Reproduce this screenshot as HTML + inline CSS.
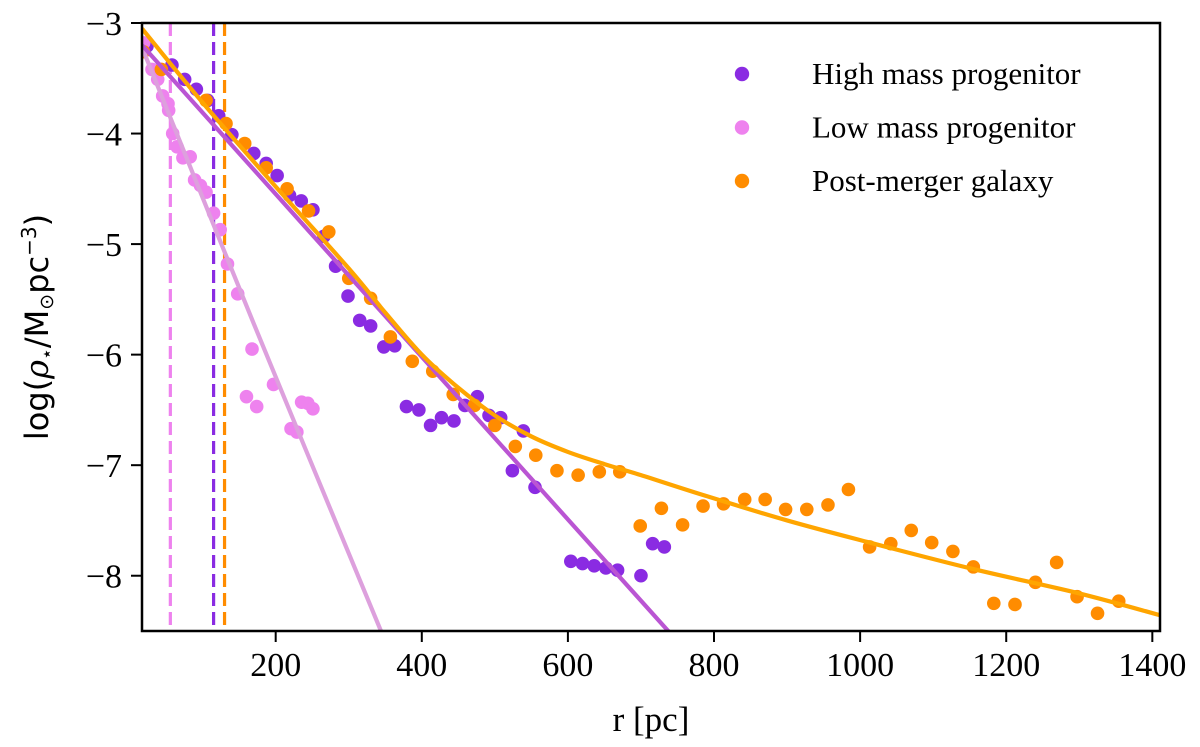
<!DOCTYPE html>
<html><head><meta charset="utf-8"><style>
html,body{margin:0;padding:0;background:#fff}
svg{display:block}
.tk{font-family:"Liberation Serif",serif;font-size:34px;fill:#000}
.lg{font-family:"Liberation Serif",serif;font-size:31px;fill:#000}
</style></head><body>
<svg id="chart" width="1200" height="747" viewBox="0 0 1200 747">
<g id="plot"></g>
<g id="axes"></g>
<g id="legend"></g>
</svg>
<script>
const xTicks=[200,400,600,800,1000,1200,1400];
const yTicks=[-3,-4,-5,-6,-7,-8];
const yTickLabels=["\u22123","\u22124","\u22125","\u22126","\u22127","\u22128"];
const highR=[23.8,58,75.4,91.4,107,122,140,170,187,202,219,235,251,266,282,299,315,330,348,363,379,396,412,427,444,459,476,492,508,524,539,555,604,620,636,652,668,700,716,732];
const highV=[-3.21,-3.38,-3.51,-3.6,-3.7,-3.84,-4.01,-4.18,-4.27,-4.38,-4.56,-4.61,-4.69,-4.93,-5.2,-5.47,-5.69,-5.74,-5.93,-5.92,-6.47,-6.5,-6.64,-6.57,-6.6,-6.46,-6.38,-6.55,-6.57,-7.05,-6.69,-7.2,-7.87,-7.89,-7.91,-7.93,-7.95,-8.0,-7.71,-7.74];
const lowR=[19.3,30.7,38.5,45.3,52.6,53.5,59,65,73,83,89,97,104.7,115,124,134,148,160,167.6,174,197,221,229,235.5,244,251];
const lowV=[-3.18,-3.42,-3.51,-3.66,-3.73,-3.79,-4.0,-4.12,-4.22,-4.21,-4.42,-4.47,-4.53,-4.72,-4.87,-5.18,-5.45,-6.38,-5.95,-6.47,-6.27,-6.67,-6.7,-6.43,-6.44,-6.49];
const postR=[19,43.5,104.7,132,157.6,187,215.6,245,272.7,300,330,357,387,415,443,472,500,528,556,585,614,643,671,699,728,757,785,813,842,870,898,927,956,984,1013,1042,1070,1098,1127,1155,1183,1212,1240,1269,1297,1325,1354];
const postV=[-3.26,-3.42,-3.7,-3.91,-4.09,-4.31,-4.5,-4.7,-4.89,-5.31,-5.49,-5.84,-6.06,-6.15,-6.36,-6.46,-6.64,-6.83,-6.91,-7.05,-7.09,-7.06,-7.06,-7.55,-7.39,-7.54,-7.37,-7.35,-7.31,-7.31,-7.4,-7.4,-7.36,-7.22,-7.74,-7.71,-7.59,-7.7,-7.78,-7.92,-8.25,-8.26,-8.06,-7.88,-8.19,-8.34,-8.23];
const highFitR=[17,400,740];
const highFitV=[-3.2,-6.02,-8.52];
const lowFitR=[17,170,346];
const lowFitV=[-3.22,-5.72,-8.53];
const postFitR=[17,100,200,300,350,400,450,500,550,600,650,700,785,900,1013,1155,1300,1412];
const postFitV=[-3.05,-3.72,-4.48,-5.22,-5.62,-6.0,-6.3,-6.55,-6.74,-6.88,-6.99,-7.09,-7.27,-7.5,-7.7,-7.94,-8.16,-8.36];
const radR=[55.8,115,130];
const radColors=["#ee82ee","#8a2be2","#ff8c00"];
const legendLabels=["High mass progenitor","Low mass progenitor","Post-merger galaxy"];

const L=142,R=1160,T=23,B=631,X0=17,X1=1410.5,Y0=-8.5,Y1=-3;
const sx=r=>L+(r-X0)/(X1-X0)*(R-L);
const sy=v=>B-(v-Y0)/(Y1-Y0)*(B-T);
const NS="http://www.w3.org/2000/svg";
function mk(tag,parent){const e=document.createElementNS(NS,tag);parent.appendChild(e);return e;}
const plot=document.getElementById('plot'),axes=document.getElementById('axes'),legend=document.getElementById('legend');
const defs=mk('defs',plot);const cp=mk('clipPath',defs);cp.setAttribute('id','clip');
const cr=mk('rect',cp);cr.setAttribute('x',L);cr.setAttribute('y',T);cr.setAttribute('width',R-L);cr.setAttribute('height',B-T);
const g=mk('g',plot);g.setAttribute('clip-path','url(#clip)');



radR.forEach((r,i)=>{const l=mk('line',g);l.setAttribute('x1',sx(r));l.setAttribute('x2',sx(r));l.setAttribute('y1',T);l.setAttribute('y2',B);
l.setAttribute('stroke',radColors[i]);l.setAttribute('stroke-width',3.2);l.setAttribute('stroke-dasharray','13,6');

});

function dots(rs,vs,col,name){rs.forEach((r,i)=>{const c=mk('circle',g);c.setAttribute('cx',sx(r));c.setAttribute('cy',sy(vs[i]));c.setAttribute('r',6.8);c.setAttribute('fill',col);

});}
function smoothPath(rs,vs){const p=rs.map((r,i)=>[sx(r),sy(vs[i])]);let d='M'+p[0][0]+','+p[0][1];
for(let i=0;i<p.length-1;i++){const p0=p[Math.max(i-1,0)],p1=p[i],p2=p[i+1],p3=p[Math.min(i+2,p.length-1)];
const c1=[p1[0]+(p2[0]-p0[0])/6,p1[1]+(p2[1]-p0[1])/6],c2=[p2[0]-(p3[0]-p1[0])/6,p2[1]-(p3[1]-p1[1])/6];
d+='C'+c1[0]+','+c1[1]+' '+c2[0]+','+c2[1]+' '+p2[0]+','+p2[1];}return d;}
function fit(rs,vs,col,name){const p=mk('path',g);p.setAttribute('d',smoothPath(rs,vs));
p.setAttribute('fill','none');p.setAttribute('stroke',col);p.setAttribute('stroke-width',4.2);p.setAttribute('stroke-linejoin','round');

}
dots(highR,highV,'#8a2be2','high-mass-point');
dots(lowR,lowV,'#ee82ee','low-mass-point');
dots(postR,postV,'#ff8c00','post-merger-point');
fit(lowFitR,lowFitV,'#dda0dd','low-mass-fit');
fit(highFitR,highFitV,'#ba55d3','high-mass-fit');
fit(postFitR,postFitV,'#ffa500','post-merger-fit');

const fr=mk('rect',axes);fr.setAttribute('x',L);fr.setAttribute('y',T);fr.setAttribute('width',R-L);fr.setAttribute('height',B-T);
fr.setAttribute('fill','none');fr.setAttribute('stroke','#000');fr.setAttribute('stroke-width',2.5);


xTicks.forEach(t=>{const x=sx(t);const l=mk('line',axes);l.setAttribute('x1',x);l.setAttribute('x2',x);l.setAttribute('y1',B);l.setAttribute('y2',B+11);l.setAttribute('stroke','#000');l.setAttribute('stroke-width',2);


const tx=mk('text',axes);tx.setAttribute('x',x);tx.setAttribute('y',B+45);tx.setAttribute('text-anchor','middle');tx.setAttribute('class','tk');tx.textContent=t;

});
yTicks.forEach((t,i)=>{const y=sy(t);const l=mk('line',axes);l.setAttribute('x1',L-11);l.setAttribute('x2',L);l.setAttribute('y1',y);l.setAttribute('y2',y);l.setAttribute('stroke','#000');l.setAttribute('stroke-width',2);


const tx=mk('text',axes);tx.setAttribute('x',L-20);tx.setAttribute('y',y+12);tx.setAttribute('text-anchor','end');tx.setAttribute('class','tk');tx.textContent=yTickLabels[i];

});

const lgCols=['#8a2be2','#ee82ee','#ff8c00'];
legendLabels.forEach((s,i)=>{const y=74+i*53.5;const c=mk('circle',legend);c.setAttribute('cx',742);c.setAttribute('cy',y);c.setAttribute('r',7.2);c.setAttribute('fill',lgCols[i]);


const tx=mk('text',legend);tx.setAttribute('x',812);tx.setAttribute('y',y+10);tx.setAttribute('class','lg');tx.textContent=s;

});
</script>
<svg style="position:absolute;left:0;top:0" width="1200" height="747">
<text x="651" y="731" text-anchor="middle" font-family="Liberation Serif, serif" font-size="35">r [pc]</text>
<text transform="translate(48,327) rotate(-90)" text-anchor="middle" font-family="DejaVu Sans, sans-serif" font-size="32">log(<tspan font-family="DejaVu Serif, serif" font-style="italic">ρ</tspan><tspan font-size="19" dy="5">⋆</tspan><tspan dy="-5">/M</tspan><tspan font-size="19" dy="5">⊙</tspan><tspan dy="-5">pc</tspan><tspan font-size="20" dy="-12">−3</tspan><tspan dy="12">)</tspan></text>
</svg>
</body></html>
